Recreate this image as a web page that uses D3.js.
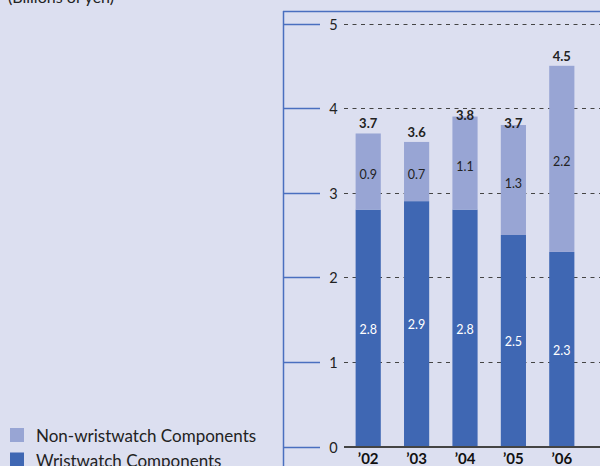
<!DOCTYPE html>
<html><head><meta charset="utf-8">
<script src="https://cdn.jsdelivr.net/npm/d3@7"></script>
<style>body{margin:0;background:#dcdff0;}svg{display:block;}</style>
</head><body>
<svg id="c" width="600" height="466"></svg>
<script>
const years = ["’02","’03","’04","’05","’06"];
const wristwatch = [2.8, 2.9, 2.8, 2.5, 2.3];
const nonWristwatch = [0.9, 0.7, 1.1, 1.3, 2.2];
const totals = [3.7, 3.6, 3.8, 3.7, 4.5];
const yTicks = [0,1,2,3,4,5];
const seriesNames = ["Non-wristwatch Components","Wristwatch Components"];
const colors = {dark:"#3f67b3", light:"#98a5d4", frame:"#4a6fbf"};
const font = "Lato, 'Open Sans', sans-serif";

const svg = d3.select("#c");
svg.append("rect").attr("width",600).attr("height",466).attr("fill","#dcdff0");

const y = d3.scaleLinear().domain([0,5]).range([446.5,23.5]);
const x = d3.scaleBand().domain(years).range([344,586]).paddingInner(0.48).paddingOuter(0.24);

// frame
svg.append("line").attr("x1",283.5).attr("x2",283.5).attr("y1",11).attr("y2",466).attr("stroke",colors.frame).attr("stroke-width",1.5);
svg.append("line").attr("x1",283).attr("x2",600).attr("y1",11.5).attr("y2",11.5).attr("stroke",colors.frame).attr("stroke-width",1.5);

// ticks & gridlines
yTicks.forEach(t=>{
  const yy = Math.round(y(t))+0.5;
  svg.append("line").attr("x1",284).attr("x2",320).attr("y1",yy).attr("y2",yy).attr("stroke",colors.frame).attr("stroke-width",1.5);
  svg.append("text").attr("x",333.5).attr("y",yy).attr("dy","0.36em").attr("text-anchor","middle")
    .attr("font-family",font).attr("font-size",14.5).attr("fill","#222").text(t);
  if(t>0) svg.append("line").attr("x1",344).attr("x2",600).attr("y1",yy).attr("y2",yy)
    .attr("stroke","#444").attr("stroke-width",1).attr("stroke-dasharray","4,4.5");
});

// bars
years.forEach((yr,i)=>{
  const bx = x(yr), bw = x.bandwidth();
  svg.append("rect").attr("x",bx).attr("width",bw).attr("y",y(wristwatch[i])).attr("height",y(0)-y(wristwatch[i])).attr("fill",colors.dark);
  const top = wristwatch[i]+nonWristwatch[i];
  svg.append("rect").attr("x",bx).attr("width",bw).attr("y",y(top)).attr("height",y(wristwatch[i])-y(top)).attr("fill",colors.light);
  svg.append("text").attr("x",bx+bw/2).attr("y",(y(0)+y(wristwatch[i]))/2+1).attr("dy","0.36em").attr("text-anchor","middle")
    .attr("font-family",font).attr("font-size",12.5).attr("fill","#fff").text(wristwatch[i].toFixed(1));
  svg.append("text").attr("x",bx+bw/2).attr("y",(y(wristwatch[i])+y(top))/2+3).attr("dy","0.36em").attr("text-anchor","middle")
    .attr("font-family",font).attr("font-size",12.5).attr("fill","#222").text(nonWristwatch[i].toFixed(1));
  svg.append("text").attr("x",bx+bw/2).attr("y",y(totals[i])-5).attr("text-anchor","middle")
    .attr("font-family",font).attr("font-size",13).attr("font-weight","bold").attr("fill","#222").text(totals[i].toFixed(1));
  svg.append("text").attr("x",bx+bw/2).attr("y",464).attr("text-anchor","middle")
    .attr("font-family",font).attr("font-size",15).attr("font-weight","bold").attr("fill","#111").text(yr);
});

// baseline
svg.append("line").attr("x1",344).attr("x2",600).attr("y1",Math.round(y(0))).attr("y2",Math.round(y(0))).attr("stroke","#444").attr("stroke-width",2);

// title
svg.append("text").attr("x",8).attr("y",3).attr("font-family",font).attr("font-size",16).attr("fill","#222").text("(Billions of yen)");

// legend
const legColors=[colors.light, colors.dark];
seriesNames.forEach((n,i)=>{
  const ly = 428+i*24.5;
  svg.append("rect").attr("x",10).attr("y",ly).attr("width",14).attr("height",14).attr("fill",legColors[i]);
  svg.append("text").attr("x",36).attr("y",ly+14).attr("font-family",font).attr("font-size",17).attr("fill","#222").text(n);
});
</script>
</body></html>
